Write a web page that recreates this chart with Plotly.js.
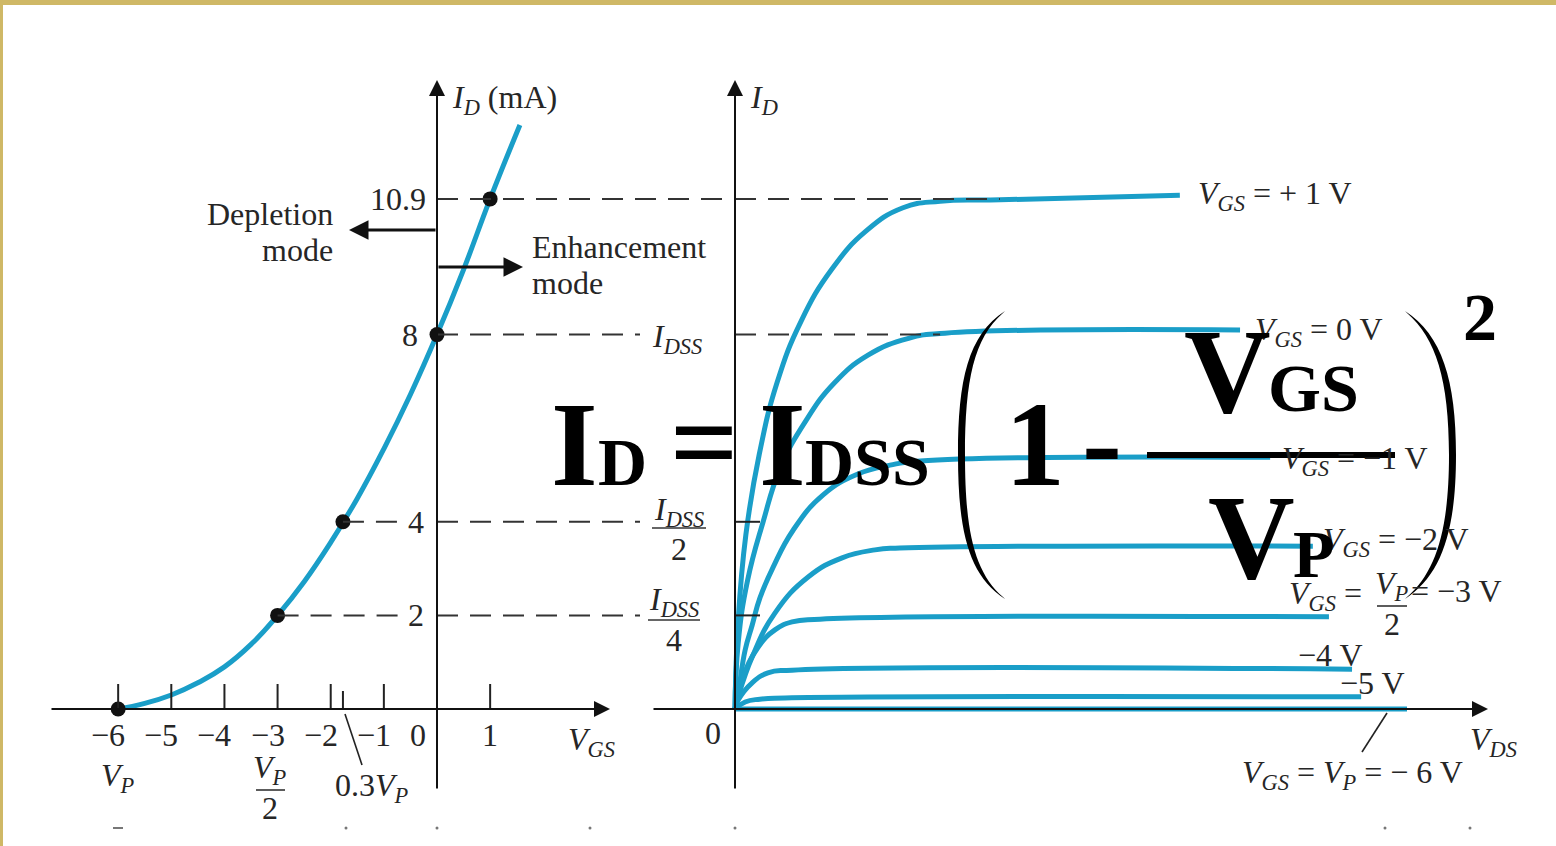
<!DOCTYPE html>
<html>
<head>
<meta charset="utf-8">
<script src="https://cdn.plot.ly/plotly-3.0.1.min.js"></script>
<style>
  html, body { margin: 0; padding: 0; background: #fff; overflow: hidden; }
  #chart { width: 1556px; height: 846px; }
</style>
</head>
<body>
<div id="chart"></div>
<script>
// ---------- Transfer characteristic: V_GS (V) vs I_D (mA) ----------
const vgsCurve = [-6, -5.5, -5, -4.5, -4, -3.5, -3, -2.5, -2, -1.5, -1, -0.5, 0, 0.5, 1, 1.56];
const idCurve  = [0, 0.12, 0.3, 0.56, 0.9, 1.38, 2.0, 2.72, 3.56, 4.5, 5.56, 6.72, 8.0, 9.39, 10.9, 12.48];
const vgsPoints = [-6, -3, -1.77, 0, 1];
const idPoints  = [0, 2, 4, 8, 10.9];
const idPointText = ['', '2', '4', '8', '10.9'];
const vgsTicks = [-6, -5, -4, -3, -2, -1, 1];
const vgsTickText = ['−6', '−5', '−4', '−3', '−2', '−1', '1'];
const vgsMarkTick = -1.77;          // 0.3 V_P

// ---------- Drain characteristics: V_DS (V) vs I_D (mA), one pair per V_GS ----------
const vdsP1 = [0, 0.09, 0.31, 0.69, 1.2, 1.89, 2.77, 3.74, 4.8, 5.86, 7.57, 12.71];
const idP1  = [0, 1.88, 3.72, 5.43, 6.97, 8.29, 9.4, 10.21, 10.71, 10.85, 10.88, 10.98];
const vds0  = [0, 0.09, 0.36, 0.8, 1.29, 2.0, 2.83, 3.8, 4.96, 6.0, 14.43];
const id0   = [0, 1.40, 2.75, 3.99, 5.14, 6.13, 6.96, 7.56, 7.92, 8.03, 8.10];
const vdsM1 = [0, 0.09, 0.29, 0.49, 0.71, 1.09, 1.66, 2.51, 3.51, 4.43, 5.29, 15.29];
const idM1  = [0, 0.34, 1.26, 1.79, 2.37, 3.03, 3.82, 4.57, 5.02, 5.21, 5.30, 5.38];
const vdsM2 = [0, 0.09, 0.49, 1.14, 2.09, 3.06, 4.0, 4.71, 16.51];
const idM2  = [0, 0.26, 1.11, 2.05, 2.82, 3.23, 3.40, 3.44, 3.48];
const vdsM3 = [0, 0.2, 0.66, 1.14, 1.63, 2.43, 16.97];
const idM3  = [0, 0.62, 1.32, 1.69, 1.86, 1.92, 1.97];
const vdsM4 = [0, 0.09, 0.49, 0.94, 1.63, 17.63];
const idM4  = [0, 0.19, 0.56, 0.77, 0.83, 0.85];
const vdsM5 = [0, 0.29, 0.71, 1.43, 17.89];
const idM5  = [0, 0.15, 0.21, 0.235, 0.26];
const vdsM6 = [0, 19.2];
const idM6  = [0, 0];
const drainX = [vdsP1, vds0, vdsM1, vdsM2, vdsM3, vdsM4, vdsM5, vdsM6];
const drainY = [idP1, id0, idM1, idM2, idM3, idM4, idM5, idM6];

// reference levels marked on the drain axis (I_DSS, I_DSS/2, I_DSS/4)
const idssLevels = [8, 4, 2];

// ---------- frame geometry ----------
const W = 1556, H = 846;
const LEFT_ORIGIN = 437, LEFT_PX_PER_V = 53.14;    // V_GS axis
const RIGHT_ORIGIN = 735, RIGHT_PX_PER_V = 35;     // V_DS axis
const ZERO_ROW = 709, PX_PER_MA = 46.8;            // I_D axis

const BLUE = '#1a9ec8';
const INK = '#262626';
const SERIF = '"Liberation Serif", "Times New Roman", serif';

const curveLine = { color: BLUE, width: 5, shape: 'spline', smoothing: 1.3 };

const traces = [];
traces.push({ x: vgsCurve, y: idCurve, xaxis: 'x', yaxis: 'y', mode: 'lines', line: curveLine, hoverinfo: 'skip' });
for (let i = 0; i < drainX.length; i++) {
  traces.push({ x: drainX[i], y: drainY[i], xaxis: 'x2', yaxis: 'y', mode: 'lines', line: curveLine, hoverinfo: 'skip' });
}
traces.push({ x: vgsPoints, y: idPoints, xaxis: 'x', yaxis: 'y', mode: 'markers',
  marker: { size: 15, color: '#111' }, hoverinfo: 'skip' });
traces.push({ x: [], y: [], xaxis: 'x3', yaxis: 'y3', mode: 'markers', hoverinfo: 'skip' });

// ---------- helpers ----------
function label(text, x, y, o = {}) {
  const a = {
    text, x, y, xref: o.xref || 'x3', yref: o.yref || 'y3', showarrow: false,
    xanchor: o.xanchor || 'center', yanchor: 'middle',
    font: { family: SERIF, size: o.size || 32, color: o.color || INK }
  };
  if (o.xshift) a.xshift = o.xshift;
  if (o.yshift) a.yshift = o.yshift;
  return a;
}
function arrow(x, y, ax, ay, ref, ref2, o = {}) {
  return {
    text: '', x, y, ax, ay, xref: ref, yref: ref2, axref: ref, ayref: ref2,
    showarrow: true, arrowhead: 2, arrowsize: o.size || 1.6, arrowwidth: o.width || 2,
    arrowcolor: '#111', standoff: 0, startstandoff: 0
  };
}
function seg(x0, y0, x1, y1, xref, yref, o = {}) {
  const s = { type: 'line', x0, y0, x1, y1, xref, yref,
    line: { color: o.color || '#333', width: o.width || 2 } };
  if (o.dash) s.line.dash = o.dash;
  return s;
}

const DASH = '21px,12px';
const leftVAt = px => (px - LEFT_ORIGIN) / LEFT_PX_PER_V;
const rightVAt = px => (px - RIGHT_ORIGIN) / RIGHT_PX_PER_V;
const mAAt = py => (ZERO_ROW - py) / PX_PER_MA;

const yTop = mAAt(80), yBottom = mAAt(790);

const shapes = [];
// page border strips
shapes.push({ type: 'rect', xref: 'x3', yref: 'y3', x0: 0, x1: W, y0: 0, y1: 5, fillcolor: '#cfb866', line: { width: 0 } });
shapes.push({ type: 'rect', xref: 'x3', yref: 'y3', x0: 0, x1: 3, y0: 0, y1: H, fillcolor: '#cfb866', line: { width: 0 } });

// dashed projections between the two characteristics
shapes.push(seg(0, idPoints[4], leftVAt(RIGHT_ORIGIN), idPoints[4], 'x', 'y', { dash: DASH }));
shapes.push(seg(0, idPoints[4], 7.57, idPoints[4], 'x2', 'y', { dash: DASH }));
shapes.push(seg(0, idPoints[3], leftVAt(640), idPoints[3], 'x', 'y', { dash: DASH }));
shapes.push(seg(0, idPoints[3], 5.86, idPoints[3], 'x2', 'y', { dash: DASH }));
for (const k of [1, 2]) {
  shapes.push(seg(vgsPoints[k], idPoints[k], leftVAt(402), idPoints[k], 'x', 'y', { dash: DASH }));
  shapes.push(seg(0, idPoints[k], leftVAt(640), idPoints[k], 'x', 'y', { dash: DASH }));
  shapes.push(seg(0, idPoints[k], rightVAt(760), idPoints[k], 'x2', 'y', { color: '#222' }));
}
// V_GS tick marks
for (const v of vgsTicks) shapes.push(seg(v, 0, v, mAAt(684), 'x', 'y', { color: '#222' }));
shapes.push(seg(vgsMarkTick, 0, vgsMarkTick, mAAt(691), 'x', 'y', { color: '#222' }));

// leader lines
shapes.push(seg(345, 714, 362, 765, 'x3', 'y3', { color: '#222', width: 1.6 }));
shapes.push(seg(1387, 713, 1362, 752, 'x3', 'y3', { color: '#222', width: 1.6 }));

// fraction bars of the small labels
shapes.push(seg(256, 790, 285, 790, 'x3', 'y3', { color: '#333', width: 1.6 }));
shapes.push(seg(652, 528, 706, 528, 'x3', 'y3', { color: '#333', width: 1.6 }));
shapes.push(seg(648, 620, 700, 620, 'x3', 'y3', { color: '#333', width: 1.6 }));
shapes.push(seg(1377, 606, 1407, 606, 'x3', 'y3', { color: '#333', width: 1.6 }));

// Shockley equation: fraction bar and big parentheses
shapes.push(seg(1147, 455, 1395, 455, 'x3', 'y3', { color: '#000', width: 6 }));
shapes.push({ type: 'path', xref: 'x3', yref: 'y3', fillcolor: '#000', line: { width: 0 },
  path: 'M 1005 311 C 968 335, 958 380, 958 455 C 958 530, 968 575, 1005 599 L 1003 597 C 974 572, 965 530, 965 455 C 965 380, 974 338, 1003 313 Z' });
shapes.push({ type: 'path', xref: 'x3', yref: 'y3', fillcolor: '#000', line: { width: 0 },
  path: 'M 1405 311 C 1442 335, 1456 380, 1456 455 C 1456 530, 1442 575, 1405 599 L 1407 597 C 1436 572, 1449 530, 1449 455 C 1449 380, 1436 338, 1407 313 Z' });

// faint specks along the lower edge
for (const sx of [346, 437, 590, 735, 1385, 1470]) {
  shapes.push({ type: 'circle', xref: 'x3', yref: 'y3', x0: sx - 1.5, x1: sx + 1.5, y0: 826.5, y1: 829.5,
    fillcolor: '#777', line: { width: 0 } });
}
shapes.push({ type: 'rect', xref: 'x3', yref: 'y3', x0: 113, x1: 123, y0: 827, y1: 829, fillcolor: '#777', line: { width: 0 } });

const ann = [];
// axes with arrowheads
ann.push(arrow(0, yTop, 0, yBottom, 'x', 'y'));
ann.push(arrow(leftVAt(610), 0, leftVAt(50), 0, 'x', 'y'));
ann.push(arrow(0, yTop, 0, yBottom, 'x2', 'y'));
ann.push(arrow(rightVAt(1488), 0, rightVAt(652), 0, 'x2', 'y'));
// mode arrows
ann.push(arrow(349, 230, 437, 230, 'x3', 'y3', { width: 3, size: 1.3 }));
ann.push(arrow(523, 267, 437, 267, 'x3', 'y3', { width: 3, size: 1.3 }));

// left axis labels
ann.push(label('<i>I</i><sub><i>D</i></sub> (mA)', 450, 99, { xanchor: 'left' }));
ann.push(label(idPointText[4], 428, idPoints[4], { yref: 'y', xanchor: 'right' }));
ann.push(label(idPointText[3], 420, idPoints[3], { yref: 'y', xanchor: 'right' }));
ann.push(label(idPointText[2], 416, idPoints[2], { yref: 'y' }));
ann.push(label(idPointText[1], 416, idPoints[1], { yref: 'y' }));
ann.push(label('Depletion', 335, 214, { xanchor: 'right' }));
ann.push(label('mode', 335, 250, { xanchor: 'right' }));
ann.push(label('Enhancement', 530, 247, { xanchor: 'left' }));
ann.push(label('mode', 530, 283, { xanchor: 'left' }));
for (let i = 0; i < vgsTicks.length; i++) {
  const neg = vgsTicks[i] < 0;
  ann.push(label(vgsTickText[i], vgsTicks[i], 735, { xref: 'x', xanchor: neg ? 'right' : 'center', xshift: neg ? 9 : 0 }));
}
ann.push(label('0', 418, 735));
ann.push(label('<i>V</i><sub><i>GS</i></sub>', 566, 741, { xanchor: 'left' }));
ann.push(label('<i>V</i><sub><i>P</i></sub>', vgsPoints[0], 777, { xref: 'x' }));
ann.push(label('<i>V</i><sub><i>P</i></sub>', 270, 769));
ann.push(label('2', 270, 808));
ann.push(label('0.3<i>V</i><sub><i>P</i></sub>', 333, 787, { xanchor: 'left' }));

// right axis labels
ann.push(label('<i>I</i><sub><i>D</i></sub>', 748, 99, { xanchor: 'left' }));
ann.push(label('0', 713, 733));
ann.push(label('<i>I</i><sub><i>DSS</i></sub>', 650, idssLevels[0], { yref: 'y', xanchor: 'left', yshift: -4 }));
ann.push(label('<i>I</i><sub><i>DSS</i></sub>', 679, 511));
ann.push(label('2', 679, 549));
ann.push(label('<i>I</i><sub><i>DSS</i></sub>', 674, 601));
ann.push(label('4', 674, 640));
ann.push(label('<i>V</i><sub><i>DS</i></sub>', 1468, 741, { xanchor: 'left' }));

// curve labels
ann.push(label('<i>V</i><sub><i>GS</i></sub> = + 1 V', 1196, 195, { xanchor: 'left' }));
ann.push(label('<i>V</i><sub><i>GS</i></sub> = 0 V', 1253, 331, { xanchor: 'left' }));
ann.push(label('<i>V</i><sub><i>GS</i></sub> = −1 V', 1280, 460, { xanchor: 'left' }));
ann.push(label('<i>V</i><sub><i>GS</i></sub> = −2 V', 1321, 541, { xanchor: 'left' }));
ann.push(label('<i>V</i><sub><i>GS</i></sub> =', 1287, 595, { xanchor: 'left' }));
ann.push(label('<i>V</i><sub><i>P</i></sub>', 1392, 585));
ann.push(label('2', 1392, 624));
ann.push(label('= −3 V', 1409, 591, { xanchor: 'left' }));
ann.push(label('−4 V', 1296, 655, { xanchor: 'left' }));
ann.push(label('−5 V', 1338, 683, { xanchor: 'left' }));
ann.push(label('<i>V</i><sub><i>GS</i></sub> = <i>V</i><sub><i>P</i></sub> = − 6 V', 1240, 774, { xanchor: 'left' }));

// Shockley equation
const EQ = { color: '#000' };
ann.push(label('<b>I</b>', 574, 444.5, Object.assign({ size: 120 }, EQ)));
ann.push(label('<b>D</b>', 622, 462, Object.assign({ size: 68 }, EQ)));
ann.push(label('<b>=</b>', 704, 442, Object.assign({ size: 120 }, EQ)));
ann.push(label('<b>I</b>', 782, 444.5, Object.assign({ size: 120 }, EQ)));
ann.push(label('<b>DSS</b>', 867, 462, Object.assign({ size: 68 }, EQ)));
ann.push(label('<b>1</b>', 1035, 444.5, Object.assign({ size: 120 }, EQ)));
ann.push(label('<b>-</b>', 1102, 441, Object.assign({ size: 120 }, EQ)));
ann.push(label('<b>V</b>', 1227, 371.5, Object.assign({ size: 120 }, EQ)));
ann.push(label('<b>GS</b>', 1313, 388, Object.assign({ size: 68 }, EQ)));
ann.push(label('<b>V</b>', 1251, 537.5, Object.assign({ size: 120 }, EQ)));
ann.push(label('<b>P</b>', 1314, 554, Object.assign({ size: 68 }, EQ)));
ann.push(label('<b>2</b>', 1480, 317, Object.assign({ size: 68 }, EQ)));

const hidden = { visible: false, fixedrange: true };
const layout = {
  width: W, height: H, autosize: false,
  margin: { l: 0, r: 0, t: 0, b: 0, pad: 0 },
  paper_bgcolor: '#fff', plot_bgcolor: '#fff', showlegend: false,
  xaxis: Object.assign({ range: [-LEFT_ORIGIN / LEFT_PX_PER_V, (W - LEFT_ORIGIN) / LEFT_PX_PER_V] }, hidden),
  xaxis2: Object.assign({ range: [-RIGHT_ORIGIN / RIGHT_PX_PER_V, (W - RIGHT_ORIGIN) / RIGHT_PX_PER_V], overlaying: 'x' }, hidden),
  xaxis3: Object.assign({ range: [0, W], overlaying: 'x' }, hidden),
  yaxis: Object.assign({ range: [-(H - ZERO_ROW) / PX_PER_MA, ZERO_ROW / PX_PER_MA] }, hidden),
  yaxis3: Object.assign({ range: [H, 0], overlaying: 'y' }, hidden),
  shapes, annotations: ann
};

Plotly.newPlot('chart', traces, layout, { staticPlot: true, displayModeBar: false });
</script>
</body>
</html>
